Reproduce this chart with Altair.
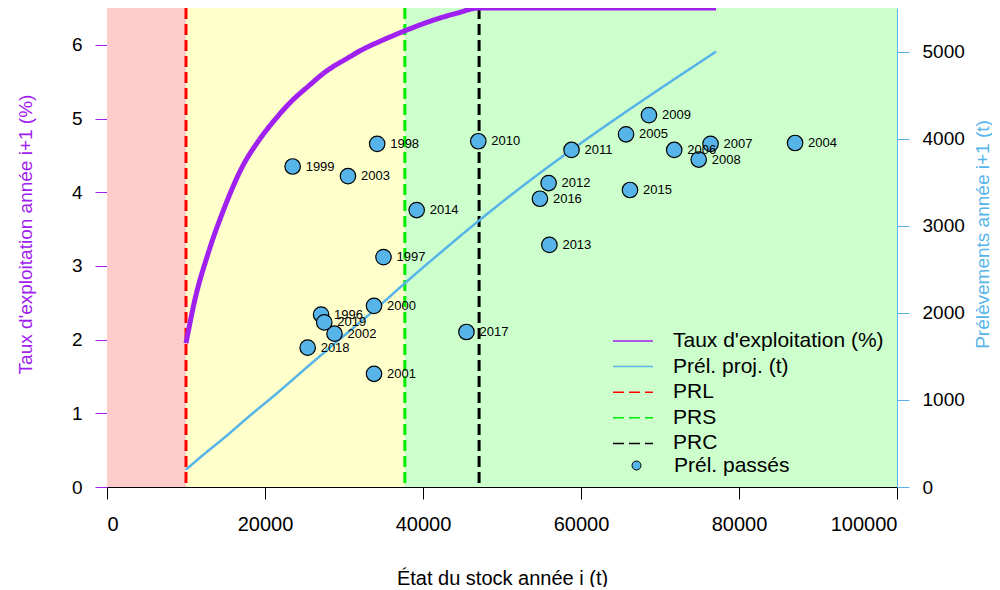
import altair as alt
import pandas as pd

# ---------------- data ----------------
PRL = 10000
PRS = 37700
PRC = 47100

# exploitation rate curve (%), left axis
rate_stock = [10000, 11100, 12800, 14900, 17100, 19200, 21300, 23400, 25500,
              27600, 30300, 32400, 34600, 37700, 40900, 44300, 47100, 77100]
rate_value = [1.95, 2.53, 3.17, 3.80, 4.34, 4.70, 4.99, 5.24, 5.44,
              5.63, 5.81, 5.94, 6.05, 6.19, 6.32, 6.43, 6.50, 6.50]

# projected harvest (t), right axis
proj_stock = [10000, 11800, 14900, 18100, 21300, 25500, 30300, 34600,
              37700, 40900, 44300, 47100, 77100]
proj_value = [200, 340, 570, 820, 1060, 1390, 1760, 2090,
              2340, 2590, 2850, 3060, 5000]

# past harvests (t), right axis
years = [1996, 1997, 1998, 1999, 2000, 2001, 2002, 2003, 2004, 2005, 2006, 2007,
         2008, 2009, 2010, 2011, 2012, 2013, 2014, 2015, 2016, 2017, 2018, 2019]
past_stock = [27100, 35000, 34200, 23500, 33800, 33800, 28800, 30500, 87100, 65700,
              71800, 76400, 74900, 68600, 47000, 58800, 55900, 56000, 39200, 66200,
              54800, 45500, 25400, 27500]
past_harvest = [1980, 2640, 3940, 3680, 2080, 1300, 1760, 3570, 3950, 4050,
                3870, 3940, 3760, 4270, 3970, 3870, 3490, 2780, 3180, 3410,
                3310, 1780, 1600, 1890]

series_names = ["Taux d'exploitation (%)", "Prél. proj. (t)", "PRL", "PRS", "PRC"]
point_name = "Prél. passés"

x_ticks = [0, 20000, 40000, 60000, 80000, 100000]
left_ticks = [0, 1, 2, 3, 4, 5, 6]
right_ticks = [0, 1000, 2000, 3000, 4000, 5000]

zone_start = [0, PRL, PRS]
zone_end = [PRL, PRS, 100000]

# ---------------- styles ----------------
PURPLE = "#A020F0"
BLUE = "#56B4E9"
zone_colors = ["#FFCCCC", "#FFFFCC", "#CCFFCC"]
series_colors = [PURPLE, BLUE, "#FF0000", "#00EE00", "#000000"]
series_dashes = [[1, 0], [1, 0], [11, 5], [11, 5], [11, 5]]
FONT = "Liberation Sans"

# ---------------- tables ----------------
rate_df = pd.DataFrame({"stock": rate_stock, "val": rate_value, "serie": series_names[0]})
proj_df = pd.DataFrame({"stock": proj_stock, "val": proj_value, "serie": series_names[1]})
ref_df = pd.DataFrame({"stock": [PRL, PRS, PRC], "serie": series_names[2:]})
pts_df = pd.DataFrame({"stock": past_stock, "val": past_harvest,
                       "year": [str(y) for y in years], "kind": point_name})
zone_df = pd.DataFrame({"start": zone_start, "end": zone_end, "col": zone_colors})

x_scale = alt.Scale(domain=[0, 100000], nice=False, zero=False)
x_axis = alt.Axis(values=x_ticks, format="d", tickSize=12, tickColor="black",
                  domainColor="black", labelFontSize=20, labelPadding=15,
                  title="État du stock année i (t)", titleFontSize=20,
                  titlePadding=34, titleFontWeight="normal", titleColor="black",
                  grid=False)


def X(field="stock"):
    return alt.X(f"{field}:Q", scale=x_scale, axis=x_axis)


color_scale = alt.Scale(domain=series_names, range=series_colors)
dash_scale = alt.Scale(domain=series_names, range=series_dashes)
line_legend = alt.Legend(title=None, orient="none", legendX=515, legendY=322,
                         symbolType="M-2,0H2", symbolSize=400, symbolStrokeWidth=1.5,
                         labelFontSize=21, labelFont=FONT, labelColor="black",
                         labelOffset=29, rowPadding=4.6, padding=0, labelLimit=400)
point_legend = alt.Legend(title=None, orient="none", legendX=519, legendY=447,
                          symbolType="circle", symbolSize=81, symbolStrokeColor="black",
                          symbolStrokeWidth=1, symbolOpacity=1, labelFontSize=21,
                          labelFont=FONT, labelColor="black", labelOffset=27,
                          padding=0, labelLimit=400)

# ---------------- background zones ----------------
zones = []
for i, c in enumerate(zone_colors):
    zones.append(
        alt.Chart(zone_df.iloc[[i]]).mark_rect(color=c, opacity=1).encode(
            x=X("start"), x2="end:Q")
    )

rules = alt.Chart(ref_df).mark_rule(strokeWidth=3).encode(
    x=X(),
    color=alt.Color("serie:N", scale=color_scale, legend=line_legend),
    strokeDash=alt.StrokeDash("serie:N", scale=dash_scale, legend=line_legend),
)

left_axis = alt.Axis(orient="left", values=left_ticks, tickSize=12, tickColor=PURPLE,
                     domainColor=PURPLE, labelFontSize=19, labelPadding=13,
                     labelColor="black", title="Taux d'exploitation année i+1 (%)",
                     titleColor=PURPLE, titleFontSize=19, titleFontWeight="normal",
                     titlePadding=36, titleY=226, grid=False)

rate_line = alt.Chart(rate_df).mark_line(strokeWidth=5, interpolate="monotone",
                                         clip=True).encode(
    x=X(),
    y=alt.Y("val:Q", scale=alt.Scale(domain=[0, 6.5], nice=False), axis=left_axis),
    color=alt.Color("serie:N", scale=color_scale, legend=line_legend),
    strokeDash=alt.StrokeDash("serie:N", scale=dash_scale, legend=line_legend),
)

right_axis = alt.Axis(orient="right", values=right_ticks, format="d", tickSize=12,
                      tickColor=BLUE, domainColor=BLUE, labelFontSize=19,
                      labelPadding=13, labelColor="black",
                      title="Prélèvements année i+1 (t)", titleColor=BLUE,
                      titleFontSize=19, titleFontWeight="normal", titleAngle=270,
                      titlePadding=28, titleY=226, grid=False)
y_right = alt.Scale(domain=[0, 5500], nice=False)

proj_line = alt.Chart(proj_df).mark_line(strokeWidth=2.5, interpolate="monotone").encode(
    x=X(),
    y=alt.Y("val:Q", scale=y_right, axis=right_axis),
    color=alt.Color("serie:N", scale=color_scale, legend=line_legend),
    strokeDash=alt.StrokeDash("serie:N", scale=dash_scale, legend=line_legend),
)

points = alt.Chart(pts_df).mark_point(filled=True, size=240, stroke="black",
                                      strokeWidth=1.2, opacity=1).encode(
    x=X(),
    y=alt.Y("val:Q", scale=y_right, axis=right_axis),
    fill=alt.Fill("kind:N", scale=alt.Scale(domain=[point_name], range=[BLUE]),
                  legend=point_legend),
)

labels = alt.Chart(pts_df).mark_text(align="left", baseline="middle", dx=13,
                                     fontSize=13, font=FONT, color="black").encode(
    x=X(),
    y=alt.Y("val:Q", scale=y_right, axis=right_axis),
    text="year:N",
)

left_group = alt.layer(*zones, rules, rate_line)
right_group = alt.layer(proj_line, points, labels)

chart = alt.layer(left_group, right_group).resolve_scale(
    y="independent"
).properties(
    width=790, height=479,
    autosize=alt.AutoSizeParams(type="none"),
    padding={"left": 99, "top": 0, "right": 95, "bottom": 100},
).configure_view(stroke=None).configure_axis(
    labelFont=FONT, titleFont=FONT, domainWidth=1, tickWidth=1
)

chart.save("out.html", embed_options={"renderer": "svg", "actions": False})
